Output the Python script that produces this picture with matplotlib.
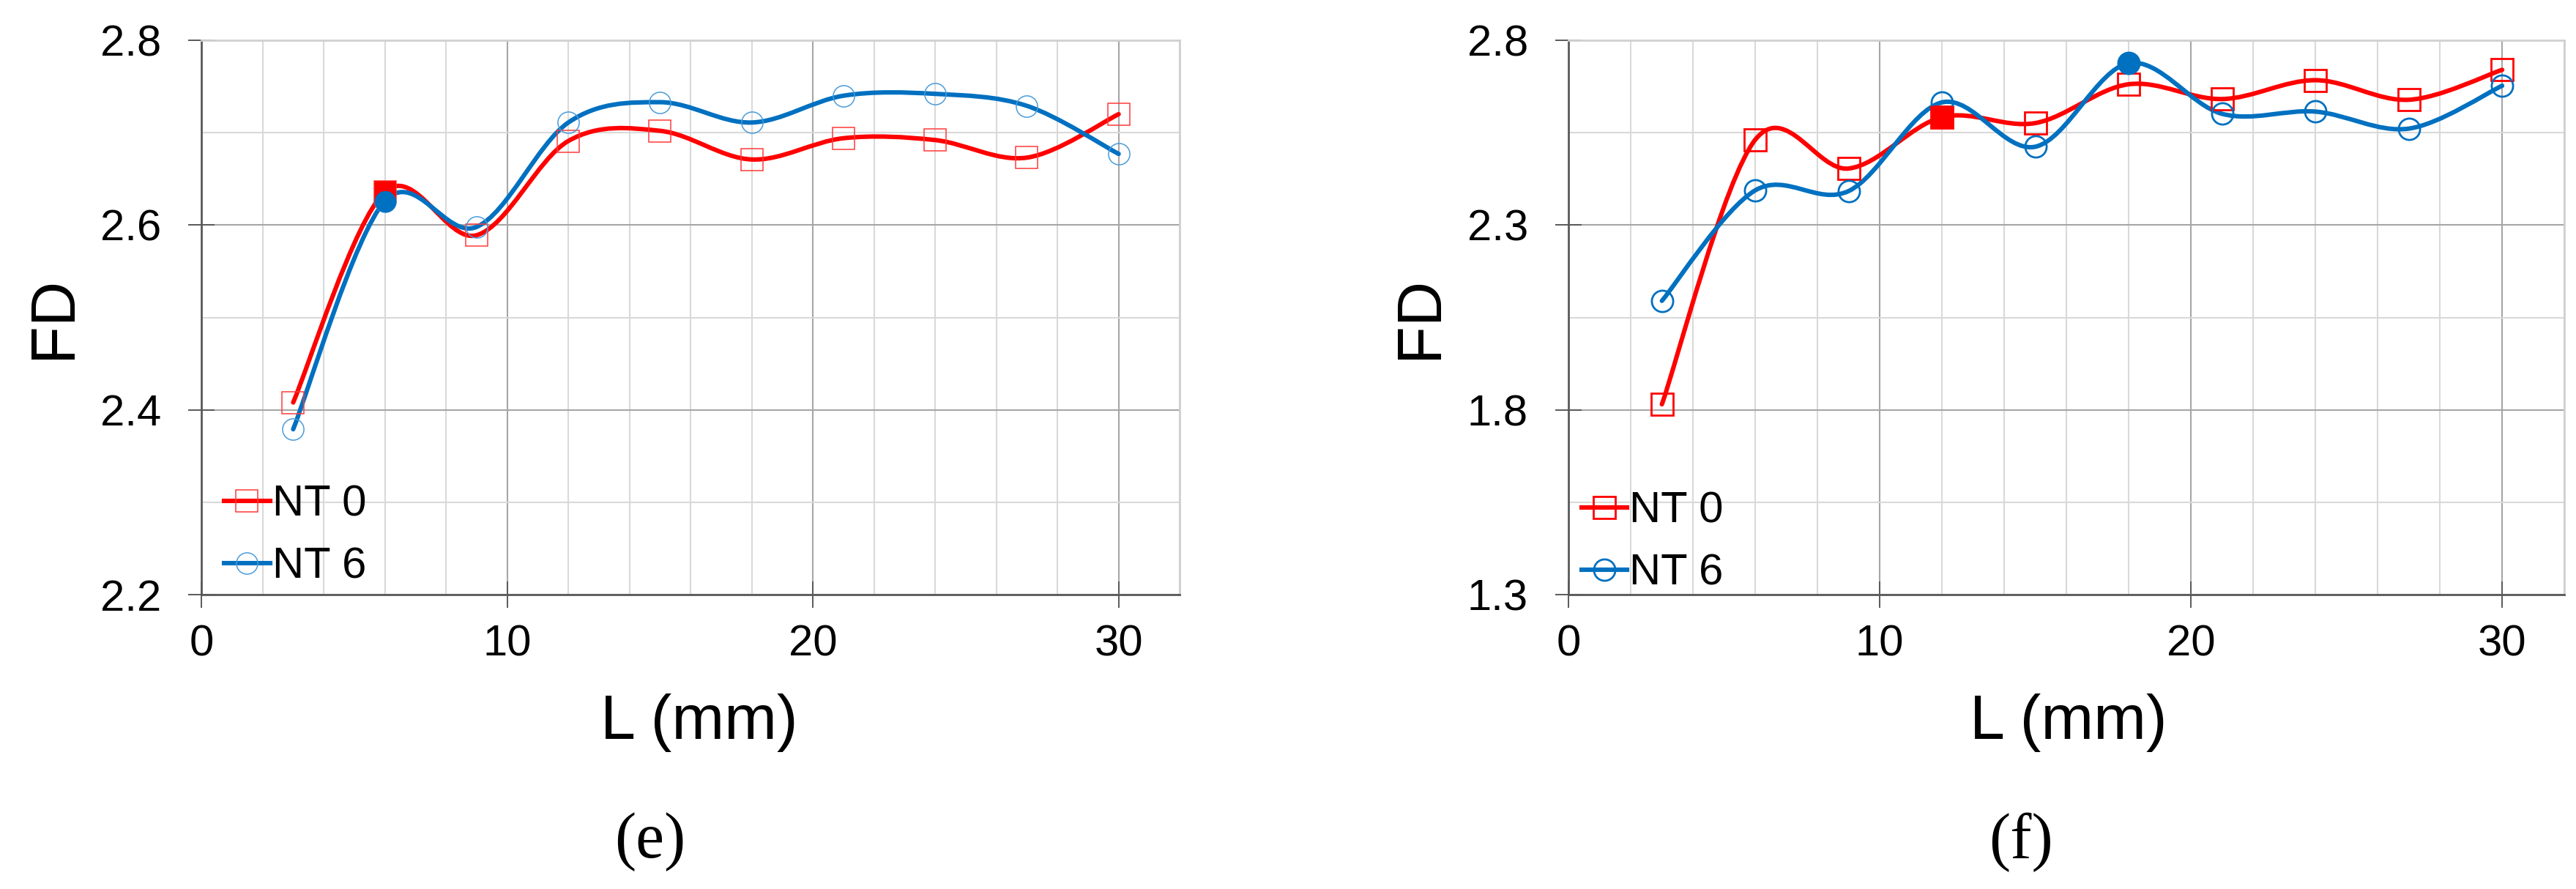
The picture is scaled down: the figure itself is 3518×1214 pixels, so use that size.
import numpy as np
import matplotlib
matplotlib.use("Agg")
import matplotlib.pyplot as plt
from matplotlib.path import Path
from matplotlib.patches import PathPatch
from matplotlib.lines import Line2D
from matplotlib.ticker import MultipleLocator, FormatStrFormatter

plt.rcParams['font.family'] = ['Liberation Sans', 'DejaVu Sans']

# fibre length L (mm)
L = [3, 6, 9, 12, 15, 18, 21, 24, 27, 30]

# panel (e)
fd_e_nt0 = [2.408, 2.636, 2.589, 2.691, 2.702, 2.671, 2.694, 2.692, 2.673, 2.720]
fd_e_nt6 = [2.379, 2.626, 2.598, 2.711, 2.733, 2.711, 2.740, 2.742, 2.729, 2.677]
# panel (f)
fd_f_nt0 = [1.815, 2.531, 2.453, 2.592, 2.576, 2.681, 2.641, 2.692, 2.639, 2.720]
fd_f_nt6 = [2.095, 2.394, 2.392, 2.632, 2.512, 2.738, 2.601, 2.607, 2.561, 2.677]

# y ticks of each panel
yticks_e = [2.2, 2.4, 2.6, 2.8]
yticks_f = [1.3, 1.8, 2.3, 2.8]

# highlighted (filled) point of each series, as index into L
best_e = {'NT 0': 1, 'NT 6': 1}
best_f = {'NT 0': 3, 'NT 6': 5}

labels = ['NT 0', 'NT 6']
RED = '#FF0000'
BLUE = '#0070C0'


def smooth_path(x, y):
    # Excel-like smoothed line: cubic bezier through every point
    pts = np.column_stack([x, y]).astype(float)
    n = len(pts)
    verts = [pts[0]]
    codes = [Path.MOVETO]
    for i in range(n - 1):
        p0 = pts[max(i - 1, 0)]
        p1 = pts[i]
        p2 = pts[i + 1]
        p3 = pts[min(i + 2, n - 1)]
        verts += [p1 + (p2 - p0) / 6, p2 - (p3 - p1) / 6, p2]
        codes += [Path.CURVE4] * 3
    return Path(verts, codes)


def draw_panel(ax, s0, s6, best, yticks, mew, e0, e6, leg_xy):
    ax.set_xlim(0, 32)
    ax.set_ylim(yticks[0], yticks[-1])
    ax.xaxis.set_major_locator(MultipleLocator(10))
    ax.xaxis.set_minor_locator(MultipleLocator(2))
    ax.set_yticks(yticks)
    yt = np.array(yticks)
    ax.set_yticks((yt[:-1] + yt[1:]) / 2, minor=True)
    ax.yaxis.set_major_formatter(FormatStrFormatter('%.1f'))

    ax.set_axisbelow(True)
    ax.grid(which='major', color='#A6A6A6', lw=1.5)
    ax.grid(which='minor', color='#D9D9D9', lw=1.5)
    for s in ['left', 'bottom']:
        ax.spines[s].set_color('#595959')
        ax.spines[s].set_linewidth(2)
    for s in ['top', 'right']:
        ax.spines[s].set_color('#D0D0D0')
        ax.spines[s].set_linewidth(2)

    ax.tick_params(which='major', direction='inout', length=26, width=1.4,
                   color='#595959', labelsize=43)
    ax.tick_params(axis='x', pad=15.8)
    ax.tick_params(axis='y', pad=26.6)
    ax.tick_params(which='minor', length=0)

    handles = []
    for lab, ys, col, ecol, mk in [('NT 0', s0, RED, e0, 's'), ('NT 6', s6, BLUE, e6, 'o')]:
        ax.add_patch(PathPatch(smooth_path(L, ys), fill=False, edgecolor=col,
                               lw=4.4, joinstyle='round', capstyle='round', zorder=3))
        ax.plot(L, ys, ls='none', marker=mk, ms=21, mfc='none', mec=ecol,
                mew=mew, zorder=4, clip_on=False)
        k = best[lab]
        ax.plot(L[k], ys[k], ls='none', marker=mk, ms=20, mfc=col, mec=col,
                mew=mew, zorder=5)
        handles.append(Line2D([], [], color=col, lw=4.4, marker=mk, ms=21,
                              mfc='none', mec=ecol, mew=mew))

    ax.legend(handles, labels, loc='lower left', bbox_to_anchor=leg_xy,
              frameon=False, fontsize=43, borderpad=0, borderaxespad=0,
              handlelength=1.05, handletextpad=0.05, labelspacing=0.5)


fig = plt.figure(figsize=(35.18, 12.14), dpi=100)
ax1 = fig.add_axes([0.0782, 0.3311, 0.3798, 0.6236])
ax2 = fig.add_axes([0.6089, 0.3311, 0.3866, 0.6236])

draw_panel(ax1, fd_e_nt0, fd_e_nt6, best_e, yticks_e, 1.1,
           '#FF3B3B', '#4A9BDA', (0.023, 0.014))
draw_panel(ax2, fd_f_nt0, fd_f_nt6, best_f, yticks_f, 2.0,
           RED, BLUE, (0.013, 0.002))

ax1.set_ylabel('FD', fontsize=61)
ax1.yaxis.set_label_coords(-0.1205, 0.5)
ax2.set_ylabel('FD', fontsize=61)
ax2.yaxis.set_label_coords(-0.119, 0.5)
ax1.set_xlabel('L (mm)', fontsize=62)
ax1.xaxis.set_label_coords(0.509, -0.178)
ax2.set_xlabel('L (mm)', fontsize=62)
ax2.xaxis.set_label_coords(0.502, -0.178)

fig.text(0.2524, 0.0527, '(e)', family=['Liberation Serif', 'DejaVu Serif'],
         fontsize=63, ha='center', va='center')
fig.text(0.7845, 0.0527, '(f)', family=['Liberation Serif', 'DejaVu Serif'],
         fontsize=63, ha='center', va='center')

fig.savefig('out.png', dpi=100, facecolor='white')
